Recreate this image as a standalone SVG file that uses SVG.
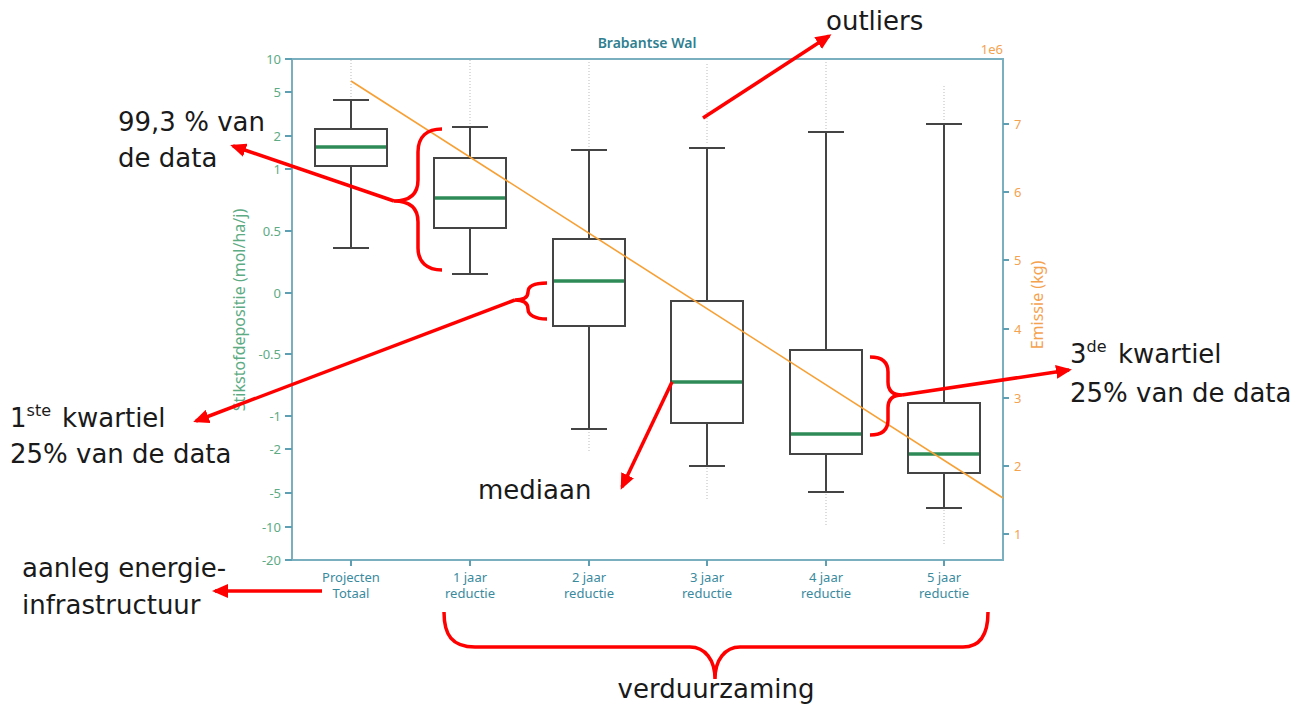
<svg xmlns="http://www.w3.org/2000/svg" width="1312" height="705" viewBox="0 0 1312 705">
<defs>
<style>
.ann{font-family:"DejaVu Sans",sans-serif;font-size:26px;fill:#1a1a1a}
.sup{font-size:16px}
.tl{font-family:"Noto Sans","DejaVu Sans",sans-serif;font-size:13px;fill:#5dab84;text-anchor:end}
.tr{font-family:"Noto Sans","DejaVu Sans",sans-serif;font-size:13px;fill:#f5a24f}
.xl{font-family:"Noto Sans","DejaVu Sans",sans-serif;font-size:13px;fill:#3a8a9e;text-anchor:middle}
.spine{stroke:#7aafc0;stroke-width:2;fill:none}
.tick{stroke:#5f9fb4;stroke-width:2}
.box{fill:none;stroke:#444;stroke-width:2}
.wh{stroke:#444;stroke-width:2;fill:none}
.med{stroke:#2e8b57;stroke-width:3.5}
.out{stroke:#888;stroke-width:2;stroke-dasharray:1 2;opacity:0.28}
.red{stroke:#ff0000;stroke-width:3.5;fill:none}
.redarrow{stroke:#ff0000;stroke-width:3.5;fill:none;marker-end:url(#ah)}
</style>
<marker id="ah" viewBox="0 0 16 14" refX="13" refY="7" markerWidth="16" markerHeight="14" markerUnits="userSpaceOnUse" orient="auto">
<path d="M0,0 L16,7 L0,14 z" fill="#ff0000"/>
</marker>
</defs>
<rect width="1312" height="705" fill="#ffffff"/>

<g id="chart">
<text x="647" y="48" text-anchor="middle" font-family="'Noto Sans','DejaVu Sans',sans-serif" font-size="14" font-weight="600" fill="#2f7f91">Brabantse Wal</text>
<rect x="292" y="59" width="711" height="501" class="spine"/>
<g class="tick">
<path d="M285,59H292M285,92H292M285,136H292M285,169H292M285,231H292M285,293H292M285,354H292M285,416H292M285,449H292M285,493H292M285,527H292M285,560H292"/>
<path d="M1003,124H1009M1003,192H1009M1003,260H1009M1003,329H1009M1003,398H1009M1003,466H1009M1003,534H1009"/>
<path d="M351,560V566M470,560V566M589,560V566M707,560V566M826,560V566M944,560V566"/>
</g>
<g>
<text class="tl" x="281" y="64">10</text>
<text class="tl" x="281" y="97">5</text>
<text class="tl" x="281" y="141">2</text>
<text class="tl" x="281" y="174">1</text>
<text class="tl" x="281" y="236">0.5</text>
<text class="tl" x="281" y="298">0</text>
<text class="tl" x="281" y="359">-0.5</text>
<text class="tl" x="281" y="421">-1</text>
<text class="tl" x="281" y="454">-2</text>
<text class="tl" x="281" y="498">-5</text>
<text class="tl" x="281" y="532">-10</text>
<text class="tl" x="281" y="565">-20</text>
</g>
<g>
<text class="tr" x="1014" y="129">7</text>
<text class="tr" x="1014" y="197">6</text>
<text class="tr" x="1014" y="265">5</text>
<text class="tr" x="1014" y="334">4</text>
<text class="tr" x="1014" y="403">3</text>
<text class="tr" x="1014" y="471">2</text>
<text class="tr" x="1014" y="539">1</text>
<text class="tr" x="1003" y="54" text-anchor="end">1e6</text>
</g>
<text transform="translate(245,310) rotate(-90)" text-anchor="middle" font-family="'Noto Sans','DejaVu Sans',sans-serif" font-size="16" fill="#5dab84">Stikstofdepositie (mol/ha/j)</text>
<text transform="translate(1043,305) rotate(-90)" text-anchor="middle" font-family="'Noto Sans','DejaVu Sans',sans-serif" font-size="16" fill="#f5a24f">Emissie (kg)</text>
<g>
<text class="xl" x="351" y="582">Projecten</text><text class="xl" x="351" y="598">Totaal</text>
<text class="xl" x="470" y="582">1 jaar</text><text class="xl" x="470" y="598">reductie</text>
<text class="xl" x="589" y="582">2 jaar</text><text class="xl" x="589" y="598">reductie</text>
<text class="xl" x="707" y="582">3 jaar</text><text class="xl" x="707" y="598">reductie</text>
<text class="xl" x="826" y="582">4 jaar</text><text class="xl" x="826" y="598">reductie</text>
<text class="xl" x="944" y="582">5 jaar</text><text class="xl" x="944" y="598">reductie</text>
</g>
</g>

<g id="box1">
<path class="out" d="M351,60V97"/>
<path class="wh" d="M351,100V129M351,166V248M333,100H369M333,248H369"/>
<rect class="box" x="315" y="129" width="72" height="37"/>
<path class="med" d="M316,147H386"/>
</g>
<g id="box2">
<path class="out" d="M470,60V124"/>
<path class="wh" d="M470,127V158M470,228V274M452,127H488M452,274H488"/>
<rect class="box" x="434" y="158" width="72" height="70"/>
<path class="med" d="M435,198H505"/>
</g>
<g id="box3">
<path class="out" d="M589,62V147M589,432V452"/>
<path class="wh" d="M589,150V239M589,326V429M571,150H607M571,429H607"/>
<rect class="box" x="553" y="239" width="72" height="87"/>
<path class="med" d="M554,281H624"/>
</g>
<g id="box4">
<path class="out" d="M707,64V145M707,468V500"/>
<path class="wh" d="M707,148V301M707,423V466M689,148H725M689,466H725"/>
<rect class="box" x="671" y="301" width="72" height="122"/>
<path class="med" d="M672,382H742"/>
</g>
<g id="box5">
<path class="out" d="M826,62V129M826,494V526"/>
<path class="wh" d="M826,132V350M826,454V492M808,132H844M808,492H844"/>
<rect class="box" x="790" y="350" width="72" height="104"/>
<path class="med" d="M791,434H861"/>
</g>
<g id="box6">
<path class="out" d="M944,86V121M944,510V546"/>
<path class="wh" d="M944,124V403M944,473V508M926,124H962M926,508H962"/>
<rect class="box" x="908" y="403" width="72" height="70"/>
<path class="med" d="M909,454H979"/>
</g>
<g id="emission-line">
<path d="M351,81L1003,498" stroke="#f7a035" stroke-width="1.6" fill="none"/>
</g>

<g id="annotation-outliers">
<text class="ann" x="826" y="30">outliers</text>
</g>
<g id="annotation-99">
<text class="ann" x="118" y="131">99,3 % van</text>
<text class="ann" x="118" y="167">de data</text>
</g>
<g id="annotation-q1">
<text class="ann" x="10" y="427">1<tspan class="sup" dy="-11">ste</tspan><tspan x="62" dy="11">kwartiel</tspan></text>
<text class="ann" x="10" y="463">25% van de data</text>
</g>
<g id="annotation-mediaan">
<text class="ann" x="478" y="499">mediaan</text>
</g>
<g id="annotation-q3">
<text class="ann" x="1070" y="363">3<tspan class="sup" dy="-11">de</tspan><tspan x="1118" dy="11">kwartiel</tspan></text>
<text class="ann" x="1070" y="402">25% van de data</text>
</g>
<g id="annotation-aanleg">
<text class="ann" x="22" y="577">aanleg energie-</text>
<text class="ann" x="22" y="614">infrastructuur</text>
</g>
<g id="annotation-verduurzaming">
<text class="ann" x="716" y="698" text-anchor="middle">verduurzaming</text>
</g>

<g id="connectors">
<path class="red" d="M442,129 C427,129 418,137 418,152 L418,180 C418,194 410,201 394,201 C410,201 418,208 418,222 L418,248 C418,262 427,270 442,270"/>
<path class="red" d="M547,283 C535,283 528,286 528,292 C528,297 524,300 515,300 C524,300 528,303 528,309 C528,315 535,319 547,319"/>
<path class="red" d="M870,357 C882,357 888,362 888,372 L888,382 C888,391 893,395 902,395 C893,395 888,399 888,408 L888,420 C888,430 882,435 870,435"/>
<path class="red" d="M444,612 C444,635 452,647 475,647 L690,647 C705,647 715,660 715,679 C715,660 725,647 740,647 L963,647 C980,647 988,635 988,612"/>
<path class="redarrow" d="M703,118 L829,36"/>
<path class="redarrow" d="M394,201 L233,146"/>
<path class="redarrow" d="M515,300 L196,421"/>
<path class="redarrow" d="M672,382 L622,487"/>
<path class="redarrow" d="M902,395 L1069,370"/>
<path class="redarrow" d="M322,591 L215,591"/>
</g>
</svg>
